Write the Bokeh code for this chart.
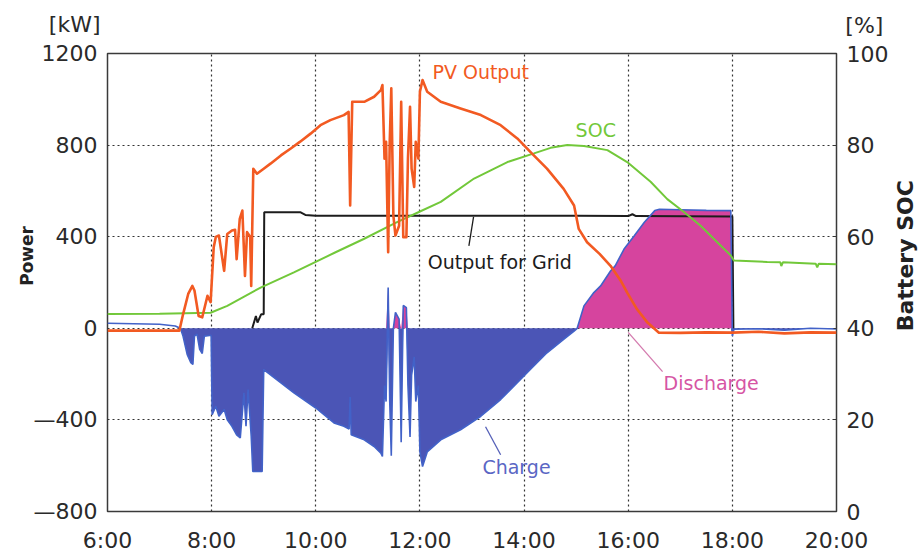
import numpy as np
from bokeh.plotting import figure
from bokeh.models import Range1d, LinearAxis, FixedTicker, Label
from bokeh.embed import file_html
from bokeh.resources import INLINE

# ---------------- data (time in hours of the day) ----------------
pv_t = [6.00, 7.38, 7.45, 7.55, 7.63, 7.67, 7.75, 7.82, 7.92, 7.98, 8.04, 8.08, 8.14, 8.24,
        8.30, 8.39, 8.45, 8.48, 8.54, 8.59, 8.64, 8.68, 8.74, 8.76, 8.80, 8.87, 9.00, 9.13,
        9.33, 9.52, 9.70, 9.90, 10.09, 10.28, 10.54, 10.63, 10.66, 10.70, 10.93, 11.12, 11.25,
        11.28, 11.32, 11.35, 11.39, 11.42, 11.45, 11.49, 11.53, 11.60, 11.64, 11.68, 11.74,
        11.77, 11.81, 11.84, 11.89, 11.92, 11.97, 12.00, 12.05, 12.14, 12.40, 12.78, 13.17,
        13.55, 13.87, 14.12, 14.44, 14.76, 14.96, 15.05, 15.21, 15.45, 15.66, 15.85, 15.98,
        16.17, 16.37, 16.59, 17.00, 17.50, 18.00, 18.50, 19.00, 19.50, 20.00]
pv_kw = [-10, -10, 60, 150, 185, 165, 54, 48, 142, 114, 354, 399, 405, 251,
         412, 427, 430, 302, 478, 514, 229, 420, 400, 185, 697, 675, 697, 719,
         755, 785, 815, 850, 887, 909, 931, 945, 536, 989, 989, 1011, 1040,
         1062, 741, 814, 332, 814, 1048, 492, 405, 448, 989, 398, 398,
         741, 967, 697, 617, 814, 741, 1033, 1084, 1033, 989, 960, 931,
         887, 829, 770, 697, 609, 536, 434, 376, 325, 273, 210, 156,
         83, 25, -19, -20, -18, -19, -15, -22, -18, -19]

bat_t = [6.00, 6.50, 7.00, 7.30, 7.40, 7.45, 7.53, 7.60, 7.64, 7.67, 7.72, 7.77, 7.82, 7.86,
         7.99, 8.01, 8.08, 8.14, 8.24, 8.30, 8.39, 8.48, 8.55, 8.62, 8.66, 8.70, 8.76, 8.79,
         8.97, 9.00, 9.58, 10.00, 10.35, 10.54, 10.64, 10.66, 10.68, 10.93, 11.12, 11.25,
         11.28, 11.32, 11.35, 11.39, 11.42, 11.45, 11.49, 11.53, 11.60, 11.64, 11.68, 11.74,
         11.77, 11.81, 11.84, 11.89, 11.92, 11.97, 12.00, 12.05, 12.14, 12.40, 12.78, 13.17,
         13.55, 13.87, 14.12, 14.44, 14.76, 14.96, 15.02, 15.15, 15.34, 15.47, 15.66, 15.75,
         15.92, 16.12, 16.31, 16.51, 16.60, 17.00, 17.50, 17.97, 18.00, 18.03, 18.50, 19.00,
         19.50, 20.00]
bat_kw = [22, 20, 18, 10, 0, -34, -114, -150, -158, -34, -26, -92, -110, -34,
          -30, -377, -340, -384, -355, -399, -428, -465, -479, -282, -428, -267, -472, -625,
          -625, -180, -282, -348, -413, -428, -440, -300, -465, -487, -516, -545,
          -560, -250, -320, 178, -320, -556, 0, 70, 40, -497, 100, 90,
          -250, -475, -205, -125, -320, -250, -540, -604, -540, -487, -443, -384,
          -311, -238, -180, -107, -48, -12, 0, 98, 156, 185, 250, 273,
          346, 405, 463, 514, 520, 518, 515, 514, -34, -4, -2, -8,
          0, -3]

grid_t = [8.78, 8.85, 8.88, 8.95, 9.00, 9.01, 9.70, 9.80, 10.00, 15.00, 16.00, 16.08,
          16.15, 18.00, 18.02]
grid_kw = [0, 54, 25, 61, 61, 507, 507, 495, 492, 492, 490, 498,
           490, 488, 0]

soc_t = [6.00, 7.00, 7.98, 8.30, 8.94, 9.58, 10.38, 10.92, 11.56, 11.98, 12.40, 13.04, 13.68,
         14.19, 14.51, 14.83, 15.15, 15.60, 15.98, 16.43, 16.75, 17.07, 17.39, 17.71, 17.97,
         18.03, 18.67, 18.92, 18.94, 18.97, 19.60, 19.63, 19.66, 20.00]
soc_pct = [43.1, 43.2, 43.4, 44.9, 48.9, 52.2, 56.6, 59.5, 63.2, 65.4, 67.6, 72.7, 76.3,
           78.2, 79.4, 80.0, 79.8, 78.9, 76.3, 72.0, 68.2, 65.4, 62.4, 58.8, 55.9,
           54.8, 54.5, 54.4, 53.6, 54.4, 54.1, 53.3, 54.1, 54.0]

x_ticks = [6, 8, 10, 12, 14, 16, 18, 20]
x_tick_labels = ["6:00", "8:00", "10:00", "12:00", "14:00", "16:00", "18:00", "20:00"]
kw_ticks = [-800, -400, 0, 400, 800, 1200]
kw_tick_labels = ["\u2014800", "\u2014400", "0", "400", "800", "1200"]
soc_ticks = [0, 20, 40, 60, 80, 100]
soc_tick_labels = ["0", "20", "40", "60", "80", "100"]

# ---------------- styling ----------------
FONT = "DejaVu Sans"
C_PV = "#f25a22"
C_SOC = "#72c83a"
C_GRID = "#1c1c1c"
C_CHG = "#4b55b6"
C_DIS = "#d6449e"
C_BATLINE = "#4262c8"
C_FRAME = "#3a3a3a"

p = figure(width=921, height=556, x_range=Range1d(6, 20), y_range=Range1d(-800, 1200),
           output_backend="svg", toolbar_location=None,
           min_border_left=107, min_border_right=85, min_border_top=53, min_border_bottom=45)
p.extra_y_ranges = {"soc": Range1d(0, 100)}
p.background_fill_color = "white"
p.border_fill_color = "white"
p.outline_line_color = C_FRAME
p.outline_line_width = 1.5

# grids
p.xgrid.ticker = FixedTicker(ticks=x_ticks)
p.ygrid.ticker = FixedTicker(ticks=kw_ticks)
for g in (p.xgrid, p.ygrid):
    g.grid_line_color = "#333333"
    g.grid_line_dash = "2 3"
    g.grid_line_width = 1.2

# axes
xa = p.xaxis[0]
xa.ticker = FixedTicker(ticks=x_ticks)
xa.major_label_overrides = dict(zip(x_ticks, x_tick_labels))
ya = p.yaxis[0]
ya.ticker = FixedTicker(ticks=kw_ticks)
ya.major_label_overrides = dict(zip(kw_ticks, kw_tick_labels))

ra = LinearAxis(y_range_name="soc")
ra.ticker = FixedTicker(ticks=soc_ticks)
ra.major_label_overrides = dict(zip(soc_ticks, soc_tick_labels))
p.add_layout(ra, "right")

for ax in (xa, ya, ra):
    ax.axis_line_color = None
    ax.major_tick_line_color = C_FRAME
    ax.major_tick_out = 0
    ax.major_tick_in = 0
    ax.minor_tick_line_color = None
    ax.major_label_text_font = FONT
    ax.major_label_text_font_size = "22px"
    ax.major_label_text_color = "#2a2a2a"
    ax.major_label_standoff = 10
xa.major_label_standoff = 16
ra.major_tick_in = 3

# ---------------- data marks ----------------
bat = np.array(bat_kw, dtype=float)
p.varea(x=bat_t, y1=0, y2=np.minimum(bat, 0), fill_color=C_CHG, fill_alpha=1.0)
p.varea(x=bat_t, y1=0, y2=np.where(bat > 25, bat, 0), fill_color=C_DIS, fill_alpha=1.0)
p.line(grid_t, grid_kw, line_color=C_GRID, line_width=2)
p.line(bat_t, bat_kw, line_color=C_BATLINE, line_width=1.6)
p.line(soc_t, soc_pct, line_color=C_SOC, line_width=2, y_range_name="soc")
p.line(pv_t, pv_kw, line_color=C_PV, line_width=2.6, line_join="round")

# ---------------- annotations ----------------
def lab(x, y, text, color, size="19px", align="left", angle=0, style="normal", place=None):
    l = Label(x=x, y=y, text=text, text_color=color, text_font=FONT,
              text_font_size=size, text_align=align, text_baseline="middle",
              angle=angle, angle_units="deg", text_font_style=style)
    if place is None:
        p.add_layout(l)
    else:
        p.add_layout(l, place)

lab(12.24, 1118, "PV Output", C_PV)
lab(14.99, 865, "SOC", C_SOC)
lab(12.15, 289, "Output for Grid", "#1c1c1c")
lab(16.68, -237, "Discharge", "#d655a4")
lab(13.20, -605, "Charge", "#5a66c4")
lab(5.866, 1326, "[kW]", "#2a2a2a", size="22px", align="right", place="above")
lab(20.17, 1322, "[%]", "#2a2a2a", size="22px", place="above")
lab(4.46, 316, "Power", "#222222", size="17px", align="center", angle=90, style="bold", place="left")
lab(21.33, 317, "Battery SOC", "#222222", size="22px", align="center", angle=90, style="bold", place="right")

# leader lines
p.segment(x0=[13.03, 16.00, 13.26], y0=[487, -18, -430],
          x1=[12.94, 16.66, 13.55], y1=[360, -189, -552],
          line_color=["#1c1c1c", "#d47aae", "#5560b8"], line_width=1.3)

open("out.html", "w").write(file_html(p, INLINE))
